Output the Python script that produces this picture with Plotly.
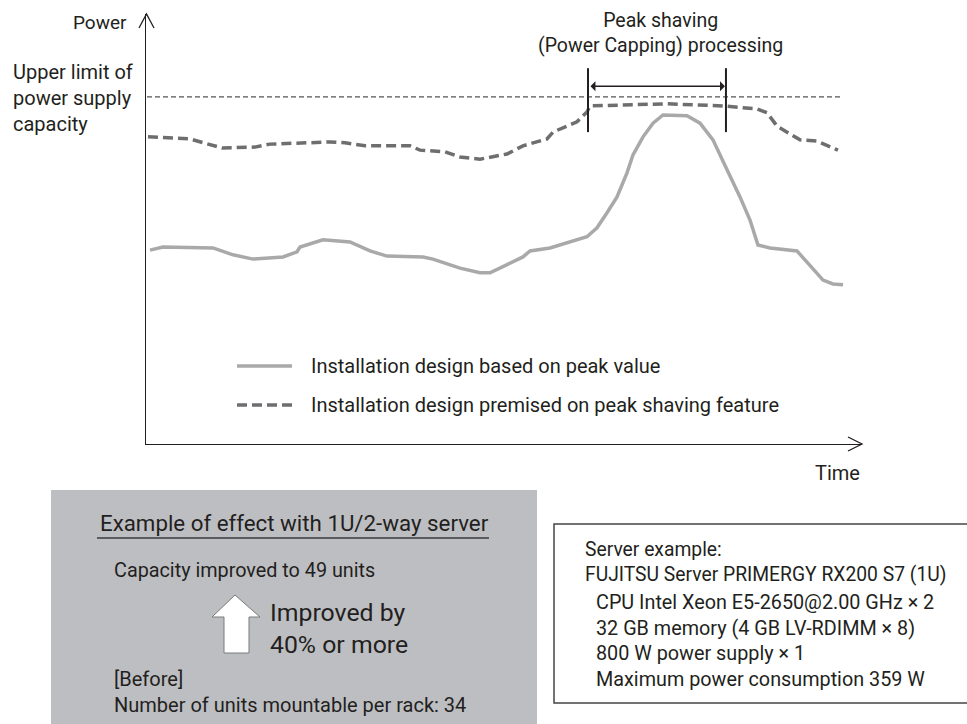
import plotly.graph_objects as go

# ---------------- data (arbitrary units) ----------------
# Time axis 0..100, power axis 0..100
time_peak = [0.42, 2.24, 9.26, 12.06, 14.87, 19.07, 21.04, 21.46, 24.68, 28.47, 31.28,
             33.66, 38.71, 40.11, 43.90, 46.70, 48.11, 49.93, 52.73, 53.72, 56.52, 61.71,
             63.11, 64.52, 65.92, 67.32, 68.16, 69.57, 70.97, 72.37, 75.74, 77.56, 79.38,
             81.35, 83.17, 84.57, 85.69, 87.38, 91.16, 93.41, 94.81, 96.21, 97.62]
power_peak = [45.2, 45.9, 45.7, 44.1, 43.1, 43.6, 44.8, 45.9, 47.6, 47.1, 45.0,
              43.8, 43.6, 43.1, 41.0, 39.9, 39.9, 41.3, 43.6, 45.0, 45.7, 48.3,
              50.4, 53.9, 57.6, 63.2, 67.4, 71.6, 74.8, 76.7, 76.5, 74.8, 70.9,
              63.9, 57.6, 52.2, 46.4, 45.7, 45.0, 40.8, 38.2, 37.3, 37.1]

time_shave = [0.14, 6.03, 10.52, 15.15, 17.25, 25.67, 27.77, 30.58, 36.89, 38.29, 41.80,
              43.90, 46.70, 47.69, 50.49, 52.73, 56.10, 56.94, 60.31, 61.71, 62.13, 72.93,
              80.79, 85.55, 86.96, 88.36, 91.58, 93.97, 96.91]
power_shave = [71.6, 71.1, 69.0, 69.2, 69.9, 70.4, 70.2, 69.5, 69.5, 68.5, 68.1,
               66.9, 66.4, 66.7, 67.6, 69.5, 71.1, 72.7, 75.1, 77.4, 78.8, 79.3,
               78.8, 78.1, 77.2, 74.1, 70.9, 70.6, 68.5]

upper_limit = 80.9
limit_span = [0.0, 97.2]
shaving_start, shaving_end = 61.85, 81.2
shaving_bar_low, shaving_bar_high = 72.7, 87.6
shaving_arrow_level = 83.4

series_names = ["Installation design based on peak value",
                "Installation design premised on peak shaving feature"]
server_lines = ["Server example:",
                "FUJITSU Server PRIMERGY RX200 S7 (1U)",
                "CPU Intel Xeon E5-2650@2.00 GHz × 2",
                "32 GB memory (4 GB LV-RDIMM × 8)",
                "800 W power supply × 1",
                "Maximum power consumption 359 W"]

# ---------------- styling ----------------
W, H = 967, 724
L, R, T, B = 146, 862, 14, 444          # plot area in pixels
FONT = "Roboto, 'Noto Sans', sans-serif"
TXT = "#231f20"
LIGHT = "#a9a9a9"
DARK = "#6d6e70"


def px(x):
    return (x - L) / (R - L)


def py(y):
    return (B - y) / (B - T)


fig = go.Figure()

fig.add_trace(go.Scatter(x=limit_span, y=[upper_limit, upper_limit], mode="lines",
                         line=dict(color="#555555", width=1.2, dash="5px,3px"),
                         hoverinfo="skip", showlegend=False))
fig.add_trace(go.Scatter(x=time_peak, y=power_peak, mode="lines", name=series_names[0],
                         line=dict(color=LIGHT, width=3.5), showlegend=False))
fig.add_trace(go.Scatter(x=time_shave, y=power_shave, mode="lines", name=series_names[1],
                         line=dict(color=DARK, width=3.5, dash="10px,5px"), showlegend=False))

shapes = []
annos = []

# peak-shaving interval markers
for xv in (shaving_start, shaving_end):
    shapes.append(dict(type="line", xref="x", yref="y", x0=xv, x1=xv,
                       y0=shaving_bar_low, y1=shaving_bar_high,
                       line=dict(color=TXT, width=2)))
annos.append(dict(x=shaving_end, y=shaving_arrow_level, ax=shaving_start, ay=shaving_arrow_level,
                  xref="x", yref="y", axref="x", ayref="y", text="", showarrow=True,
                  arrowhead=1, arrowside="end+start", arrowsize=1.1, arrowwidth=1.5,
                  arrowcolor=TXT, standoff=1, startstandoff=1))

# axis arrowheads (open chevrons)
shapes.append(dict(type="path", xref="paper", yref="paper",
                   path=f"M{px(139)},{py(28)} L{px(146.5)},{py(14)} L{px(154)},{py(28)}",
                   line=dict(color=TXT, width=1.3)))
shapes.append(dict(type="path", xref="paper", yref="paper",
                   path=f"M{px(848)},{py(437)} L{px(862)},{py(444)} L{px(848)},{py(451)}",
                   line=dict(color=TXT, width=1.3)))

# legend samples
shapes.append(dict(type="line", xref="paper", yref="paper", x0=px(237), x1=px(292),
                   y0=py(366), y1=py(366), line=dict(color=LIGHT, width=3.5)))
shapes.append(dict(type="line", xref="paper", yref="paper", x0=px(237), x1=px(292),
                   y0=py(405), y1=py(405), line=dict(color=DARK, width=3.5, dash="10px,5px")))

# bottom-left grey box
shapes.append(dict(type="rect", xref="paper", yref="paper", x0=px(51), x1=px(537),
                   y0=py(730), y1=py(490), fillcolor="#bdbec2", line=dict(width=0), layer="below"))
shapes.append(dict(type="line", xref="paper", yref="paper", x0=px(97), x1=px(489),
                   y0=py(538), y1=py(538), line=dict(color="#3a3a3a", width=1.5)))
arrow_pts = [(235, 595), (260, 617), (249, 617), (249, 653), (224, 653), (224, 617), (212, 617)]
path = "M" + " L".join(f"{px(a)},{py(b)}" for a, b in arrow_pts) + " Z"
shapes.append(dict(type="path", xref="paper", yref="paper", path=path,
                   fillcolor="white", line=dict(color="#7a7a7a", width=1)))

# right box
shapes.append(dict(type="rect", xref="paper", yref="paper", x0=px(554), x1=px(980),
                   y0=py(703), y1=py(524), fillcolor="white", line=dict(color="#444444", width=1.5)))


def text(s, x, y, size=18, anchor="left", color=TXT):
    annos.append(dict(text=s, x=px(x), y=py(y), xref="paper", yref="paper", showarrow=False,
                      xanchor=anchor, yanchor="middle", align="left",
                      font=dict(family=FONT, size=size, color=color)))


text("Power", 129, 23, 19, "right")
text("Upper limit of<br>power supply<br>capacity", 11, 98, 20)
text("Peak shaving<br>(Power Capping) processing", 660, 33, 19.5, "center")
annos[-1]["align"] = "center"
text(series_names[0], 309, 366, 20)
text(series_names[1], 309, 405, 20)
text("Time", 862, 473, 20, "right")

text("Example of effect with 1U/2-way server", 98, 523, 22.3)
text("Capacity improved to 49 units", 112, 570, 19.8)
text("Improved by<br>40% or more", 268, 628, 24.8)
text("[Before]<br>Number of units mountable per rack: 34", 112, 692, 20)

text("<br>".join(server_lines[:2]), 583, 561.5, 19.3)
text("<br>".join(server_lines[2:]), 594, 641, 19.8)

fig.update_layout(
    width=W, height=H,
    margin=dict(l=L, r=W - R, t=T, b=H - B),
    paper_bgcolor="white", plot_bgcolor="white",
    xaxis=dict(range=[-0.14, 100.28], showline=True, linecolor=TXT, linewidth=1.3,
               showgrid=False, zeroline=False, showticklabels=False, ticks=""),
    yaxis=dict(range=[0, 100.23], showline=True, linecolor=TXT, linewidth=1.3,
               showgrid=False, zeroline=False, showticklabels=False, ticks=""),
    shapes=shapes, annotations=annos, showlegend=False,
    font=dict(family=FONT, color=TXT),
)

fig.write_html("out.html", config={"displayModeBar": False},
               post_script="document.body.style.margin='0';")
